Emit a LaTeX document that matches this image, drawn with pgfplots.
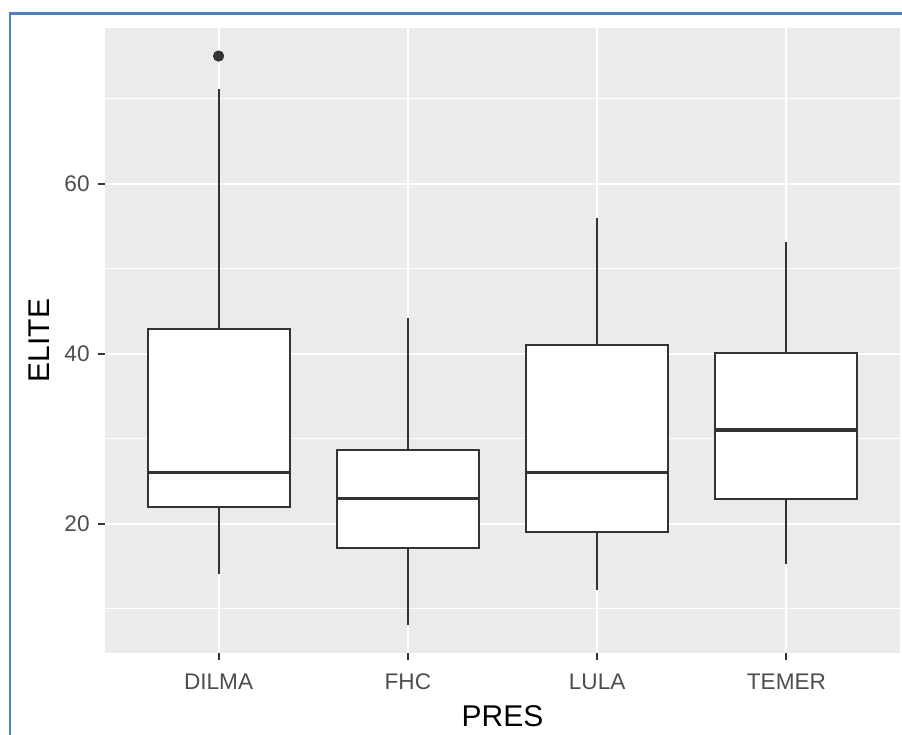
\documentclass[border=0pt]{standalone}
\usepackage{fontspec}
\setmainfont{Liberation Sans}
\usepackage{pgfplots}
\pgfplotsset{compat=1.18}

\definecolor{panelgrey}{HTML}{EBEBEB}
\definecolor{inkgrey}{HTML}{333333}
\definecolor{labelgrey}{HTML}{4D4D4D}
\definecolor{frameblue}{RGB}{79,129,189}

\pgfplotsset{
  whisker/.style={draw=inkgrey, line width=1pt},
  box/.style={draw=inkgrey, fill=white, line width=1pt, line join=miter},
  median/.style={draw=inkgrey, line width=1.7pt},
}

\begin{document}
\begin{tikzpicture}
\path[use as bounding box] (0,0) rectangle (451pt,367.5pt);
\draw[frameblue, line width=1.4pt] (5pt,0) -- (5pt,360.65pt) -- (451pt,360.65pt);
\begin{axis}[
  at={(52.5pt,41pt)}, anchor=south west,
  scale only axis, width=397.5pt, height=312.5pt,
  xmin=-0.6, xmax=3.6, ymin=4.755, ymax=78.345,
  axis background/.style={fill=panelgrey},
  axis line style={draw=none},
  xtick={0,1,2,3}, xticklabels={DILMA,FHC,LULA,TEMER},
  ytick={20,40,60}, minor ytick={10,30,50,70},
  grid=both,
  major grid style={white, line width=1pt},
  minor grid style={white, line width=0.5pt},
  tick pos=left, tick align=outside,
  major tick length=3.5pt, minor tick length=0pt,
  tick style={inkgrey, line width=1pt},
  /pgf/number format/assume math mode=true,
  ticklabel style={font=\fontsize{11.3}{13}\selectfont, text=labelgrey},
  xticklabel style={anchor=base, inner sep=0pt, yshift=-15pt},
  yticklabel style={anchor=east, inner sep=0pt, xshift=-4pt},
  xlabel={PRES}, ylabel={ELITE},
  every axis x label/.style={at={(axis description cs:0.5,-0.1184)}, anchor=base,
    font=\fontsize{15}{18}\selectfont, text=black},
  every axis y label/.style={at={(axis description cs:-0.0692,0.5)}, rotate=90, anchor=base,
    font=\fontsize{15}{18}\selectfont, text=black},
]
% DILMA: whiskers 14.0 / 71.15, quartiles 21.9 / 42.9, median 26.0, outlier 75.04
\addplot[whisker] coordinates {(0,14.0) (0,21.9)};
\addplot[whisker] coordinates {(0,42.9) (0,71.15)};
\addplot[box] coordinates {(-0.375,21.9) (0.375,21.9) (0.375,42.9) (-0.375,42.9)} -- cycle;
\addplot[median] coordinates {(-0.375,26.0) (0.375,26.0)};
\addplot[only marks, mark=*, mark size=2.6pt, inkgrey] coordinates {(0,75.04)};
% FHC: whiskers 8.1 / 44.2, quartiles 17.17 / 28.67, median 22.94
\addplot[whisker] coordinates {(1,8.1) (1,17.17)};
\addplot[whisker] coordinates {(1,28.67) (1,44.2)};
\addplot[box] coordinates {(0.625,17.17) (1.375,17.17) (1.375,28.67) (0.625,28.67)} -- cycle;
\addplot[median] coordinates {(0.625,22.94) (1.375,22.94)};
% LULA: whiskers 12.18 / 55.96, quartiles 19.06 / 41.04, median 26.0
\addplot[whisker] coordinates {(2,12.18) (2,19.06)};
\addplot[whisker] coordinates {(2,41.04) (2,55.96)};
\addplot[box] coordinates {(1.625,19.06) (2.375,19.06) (2.375,41.04) (1.625,41.04)} -- cycle;
\addplot[median] coordinates {(1.625,26.0) (2.375,26.0)};
% TEMER: whiskers 15.2 / 53.17, quartiles 22.86 / 40.06, median 30.99
\addplot[whisker] coordinates {(3,15.2) (3,22.86)};
\addplot[whisker] coordinates {(3,40.06) (3,53.17)};
\addplot[box] coordinates {(2.625,22.86) (3.375,22.86) (3.375,40.06) (2.625,40.06)} -- cycle;
\addplot[median] coordinates {(2.625,30.99) (3.375,30.99)};
\end{axis}
\end{tikzpicture}
\end{document}
